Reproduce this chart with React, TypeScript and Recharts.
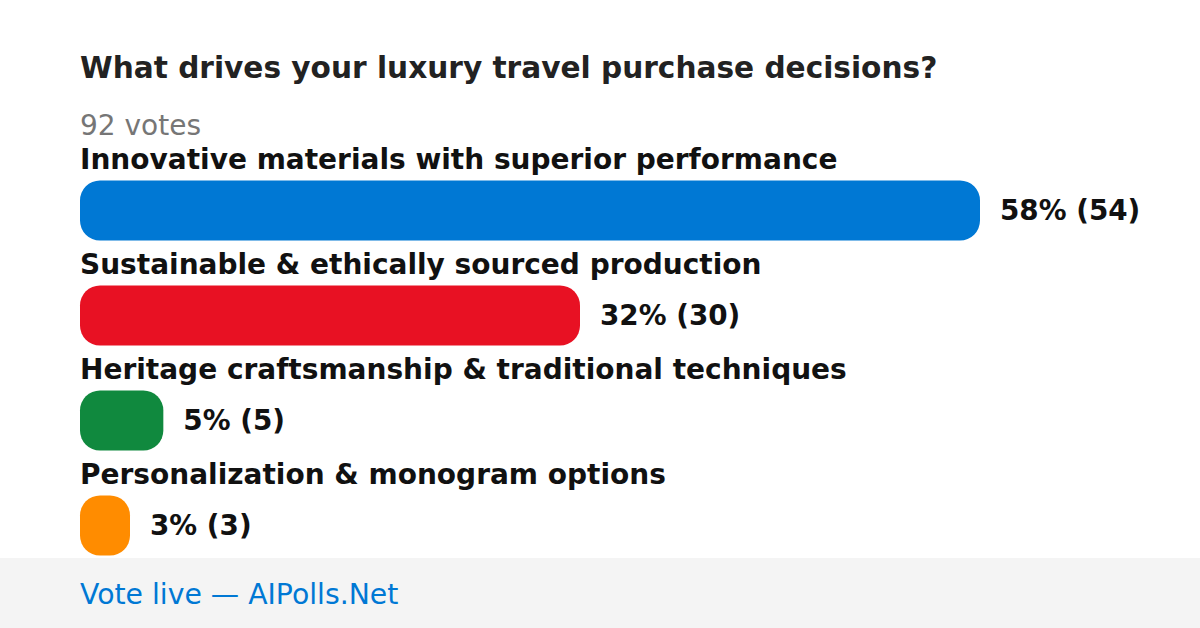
import React from "react";
import { BarChart, Bar, XAxis, YAxis, Cell, LabelList } from "recharts";

const title = "What drives your luxury travel purchase decisions?";
const totalVotesLabel = "92 votes";
const footerText = "Vote live — AIPolls.Net";
const options = [
  "Innovative materials with superior performance",
  "Sustainable & ethically sourced production",
  "Heritage craftsmanship & traditional techniques",
  "Personalization & monogram options",
];
const votes = [54, 30, 5, 3];
const percents = [58, 32, 5, 3];
const colors = ["#0078D4", "#E81123", "#10893E", "#FF8C00"];

const data = options.map((name, i) => ({
  name,
  votes: votes[i],
  pct: percents[i],
}));

const FONT = "'DejaVu Sans', Verdana, sans-serif";

const NameLabel = (props: any) => {
  const { x, y, index } = props;
  return (
    <text x={x} y={y - 12} fontFamily={FONT} fontSize={28} fontWeight="bold" fill="#111111">
      {options[index]}
    </text>
  );
};

const ValueLabel = (props: any) => {
  const { x, y, width, height, index } = props;
  return (
    <text
      x={x + width + 20}
      y={y + height / 2 + 9}
      fontFamily={FONT}
      fontSize={27.8}
      fontWeight="bold"
      fill="#111111"
    >
      {`${percents[index]}% (${votes[index]})`}
    </text>
  );
};

export default function App() {
  return (
    <div
      style={{
        position: "absolute",
        left: 0,
        top: 0,
        width: 1200,
        height: 628,
        background: "#ffffff",
        overflow: "hidden",
      }}
    >
      <svg
        width={1200}
        height={628}
        style={{ position: "absolute", left: 0, top: 0 }}
      >
        <text x={80} y={78} fontFamily={FONT} fontSize={29.6} fontWeight="bold" fill="#222222">
          {title}
        </text>
        <text x={80} y={135} fontFamily={FONT} fontSize={28} fill="#767676">
          {totalVotesLabel}
        </text>
        <rect x={0} y={558} width={1200} height={70} fill="#F4F4F4" />
        <text x={80} y={604} fontFamily={FONT} fontSize={28.3} fill="#0078D4">
          {footerText}
        </text>
      </svg>
      <div style={{ position: "absolute", left: 0, top: 0 }}>
        <BarChart
          width={1200}
          height={628}
          data={data}
          layout="vertical"
          margin={{ top: 157.5, bottom: 50.5, left: 80, right: 220 }}
        >
          <XAxis type="number" domain={[0, 54]} hide />
          <YAxis type="category" dataKey="name" hide />
          <Bar dataKey="votes" barSize={60} radius={20} isAnimationActive={false}>
            {data.map((d, i) => (
              <Cell key={d.name} fill={colors[i]} />
            ))}
            <LabelList dataKey="name" content={NameLabel} />
            <LabelList dataKey="pct" content={ValueLabel} />
          </Bar>
        </BarChart>
      </div>
    </div>
  );
}
